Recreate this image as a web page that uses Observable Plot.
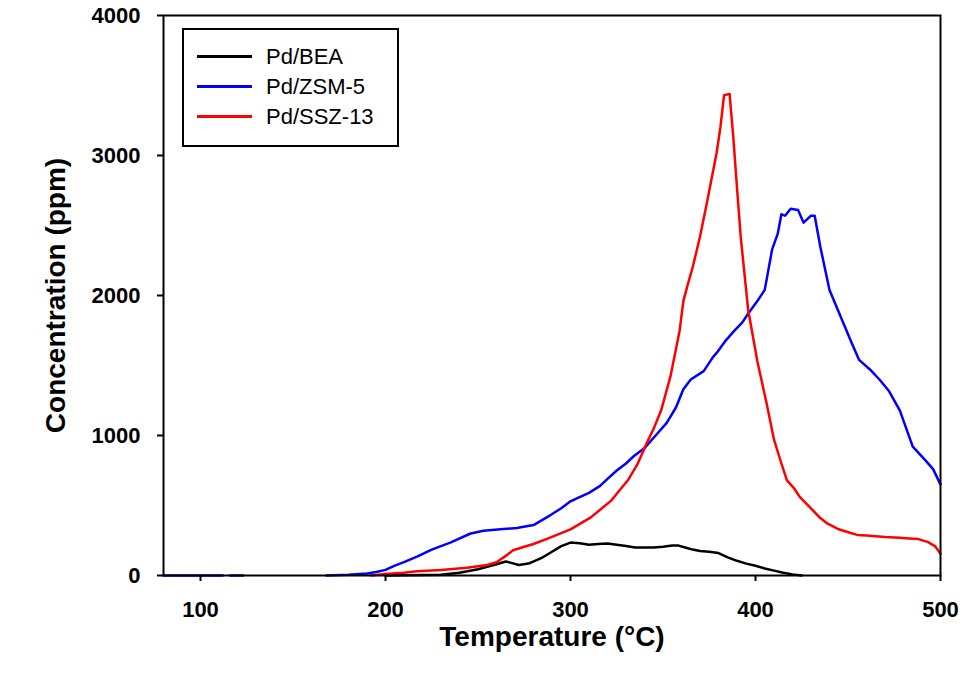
<!DOCTYPE html>
<html>
<head>
<meta charset="utf-8">
<script src="https://cdn.jsdelivr.net/npm/d3@7"></script>
<script src="https://cdn.jsdelivr.net/npm/@observablehq/plot@0.6"></script>
<style>
  html, body { margin: 0; padding: 0; background: #fff; }
  body { font-family: "Liberation Sans", Arial, sans-serif; }
  #wrap { position: relative; width: 973px; height: 678px; }
  #legend { position: absolute; left: 182px; top: 28px; width: 213px; height: 115px;
            border: 2px solid #000; background: #fff; }
  .row { position: absolute; left: 0; height: 30px; }
  .sw { position: absolute; left: 13px; width: 55px; height: 3px; top: 13px; }
  .lab { position: absolute; left: 82px; top: 0; font-size: 22px; line-height: 30px; color: #000; white-space: nowrap; }
  svg [aria-label="x-axis tick label"], svg [aria-label="y-axis tick label"] { font-weight: bold; }
</style>
</head>
<body>
<div id="wrap"></div>
<script>
// ---- data ----
const seriesNames = ["Pd/BEA", "Pd/ZSM-5", "Pd/SSZ-13"];
const seriesColors = ["#000000", "#0000ff", "#ff0000"];

const tempBEA = [200, 230, 240, 250, 260, 265, 268, 272, 278, 285, 290, 295, 300, 305, 310, 315, 320, 325, 330, 335, 340, 345, 350, 355, 358, 362, 366, 370, 375, 380, 385, 390, 395, 400, 405, 410, 415, 420, 425];
const concBEA = [0, 5, 20, 45, 80, 100, 90, 75, 88, 130, 170, 210, 235, 230, 220, 225, 228, 220, 210, 200, 200, 200, 205, 215, 215, 200, 185, 175, 170, 160, 130, 105, 85, 70, 50, 35, 20, 8, 0];

const tempZSM5 = [80, 112, 114, 116, 123, 140, 168, 180, 190, 195, 200, 205, 210, 217, 225, 235, 246, 253, 262, 271, 280, 289, 295, 300, 304, 310, 316, 320, 325, 330, 334, 340, 346, 352, 357, 361, 365, 372, 377, 379, 384, 388, 393, 396, 401, 405, 409, 412, 414, 416, 419, 423, 426, 430, 432, 435, 440, 446, 452, 456, 462, 467, 472, 478, 485, 492, 496, 500];
const concZSM5 = [0, 0, null, 0, 0, null, 0, 5, 15, 25, 40, 70, 95, 135, 185, 235, 300, 320, 330, 340, 360, 430, 480, 530, 555, 590, 640, 690, 750, 800, 850, 910, 1000, 1090, 1200, 1330, 1400, 1460, 1560, 1590, 1680, 1740, 1810, 1870, 1960, 2040, 2330, 2440, 2580, 2570, 2620, 2610, 2520, 2570, 2570, 2350, 2040, 1850, 1660, 1540, 1470, 1400, 1320, 1180, 920, 820, 760, 650];

const tempSSZ13 = [192, 200, 210, 217, 230, 244, 255, 260, 265, 269, 275, 280, 289, 300, 311, 316, 322, 326, 331, 336, 341, 345, 349, 354, 359, 361, 363, 366, 370, 374, 379, 381, 383, 386, 388, 390, 392, 396, 401, 406, 410, 414, 417, 421, 424, 430, 435, 439, 445, 451, 455, 460, 470, 478, 483, 488, 493, 497, 500];
const concSSZ13 = [0, 10, 20, 30, 40, 55, 75, 95, 140, 180, 205, 225, 270, 330, 415, 470, 535, 600, 680, 790, 940, 1050, 1180, 1420, 1750, 1960, 2060, 2200, 2420, 2680, 3020, 3200, 3430, 3440, 3130, 2770, 2420, 1900, 1530, 1230, 970, 800, 680, 620, 560, 480, 410, 370, 330, 305, 290, 285, 275, 270, 265, 260, 240, 210, 155];

const xTicks = [100, 200, 300, 400, 500];
const yTicks = [0, 1000, 2000, 3000, 4000];
const xDomain = [80, 500];
const yDomain = [0, 4000];
const xLabel = "Temperature (°C)";
const yLabel = "Concentration (ppm)";

// ---- build table ----
const temps = [tempBEA, tempZSM5, tempSSZ13];
const concs = [concBEA, concZSM5, concSSZ13];
const rows = [];
seriesNames.forEach((name, i) => {
  temps[i].forEach((t, j) => rows.push({series: name, temp: t, conc: concs[i][j]}));
});

const chart = Plot.plot({
  width: 973,
  height: 678,
  marginLeft: 163,
  marginRight: 33,
  marginTop: 15,
  marginBottom: 103,
  style: {fontFamily: "Liberation Sans, Arial, sans-serif", background: "#fff", color: "#000"},
  x: {domain: xDomain},
  y: {domain: yDomain},
  color: {domain: seriesNames, range: seriesColors},
  marks: [
    Plot.line(rows, {x: "temp", y: "conc", z: "series", stroke: "series", strokeWidth: 2.5, curve: "linear"}),
    Plot.frame({stroke: "#000", strokeWidth: 2}),
    Plot.axisX({ticks: xTicks, tickSize: 6, tickPadding: 20, fontSize: 22, label: null, strokeWidth: 2, tickFormat: d => String(d)}),
    Plot.axisY({ticks: yTicks, tickSize: 6, tickPadding: 17, fontSize: 22, label: null, strokeWidth: 2, tickFormat: d => String(d)}),
    Plot.text([xLabel], {frameAnchor: "bottom", dy: 70, fontSize: 28, fontWeight: "bold", fill: "#000", textAnchor: "middle"}),
    Plot.text([yLabel], {frameAnchor: "left", dx: -107, rotate: -90, fontSize: 28, fontWeight: "bold", fill: "#000", textAnchor: "middle"})
  ]
});

const wrap = document.getElementById("wrap");
wrap.appendChild(chart);

// legend
const legend = document.createElement("div");
legend.id = "legend";
seriesNames.forEach((name, i) => {
  const row = document.createElement("div");
  row.className = "row";
  row.style.top = (12 + i * 30) + "px";
  const sw = document.createElement("div");
  sw.className = "sw";
  sw.style.background = seriesColors[i];
  const lab = document.createElement("div");
  lab.className = "lab";
  lab.textContent = name;
  row.appendChild(sw);
  row.appendChild(lab);
  legend.appendChild(row);
});
wrap.appendChild(legend);
</script>
</body>
</html>
